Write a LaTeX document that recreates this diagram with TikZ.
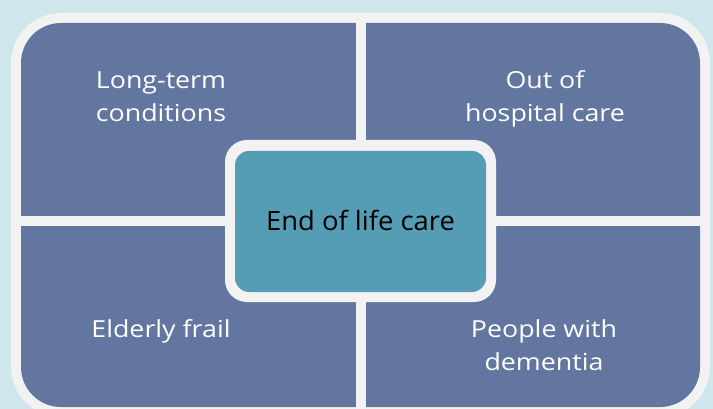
\documentclass[tikz,border=0pt]{standalone}
\usepackage{fontspec}
\setmainfont{Open Sans}
\newfontfamily\quadfont[FakeStretch=1.14]{Open Sans}
\newfontfamily\centerfont[FakeStretch=1.03]{Open Sans}
\definecolor{bgblue}{RGB}{207,230,237}
\definecolor{framegray}{RGB}{242,242,242}
\definecolor{quadblue}{RGB}{98,118,160}
\definecolor{centerteal}{RGB}{85,157,180}
\tikzset{
  quadtext/.style={text=white, align=center, anchor=base, inner sep=0pt, font=\quadfont\fontsize{23.5}{33.5}\selectfont},
  centertext/.style={text=black, align=center, anchor=base, inner sep=0pt, font=\centerfont\fontsize{26.6}{30}\selectfont},
}
\begin{document}
\begin{tikzpicture}[x=1pt,y=-1pt]
\useasboundingbox (0,0) rectangle (713,409);
\fill[bgblue] (0,0) rectangle (713,409);
% outer frame and quadrants
\fill[framegray, rounded corners=50pt] (11,13) rectangle (710,417);
\fill[quadblue, rounded corners=40pt] (21,23) rectangle (700,407);
\fill[framegray] (356,13) rectangle (366,417);
\fill[framegray] (11,216) rectangle (710,226);
% center box
\fill[framegray, rounded corners=22pt] (225,140) rectangle (496,302);
\fill[centerteal, rounded corners=14pt] (235,151) rectangle (486,292);
% texts (multi-line nodes: base anchor is at the last line)
\node[quadtext] (ltc) at (161,121.7) {Long-term\\conditions};
\node[quadtext] (ohc) at (545,122) {Out of\\hospital care};
\node[quadtext] (ef) at (161,337) {Elderly frail};
\node[quadtext] (pwd) at (544,370.7) {People with\\dementia};
\node[centertext] (eol) at (360.5,230.7) {End of life care};
\end{tikzpicture}
\end{document}
